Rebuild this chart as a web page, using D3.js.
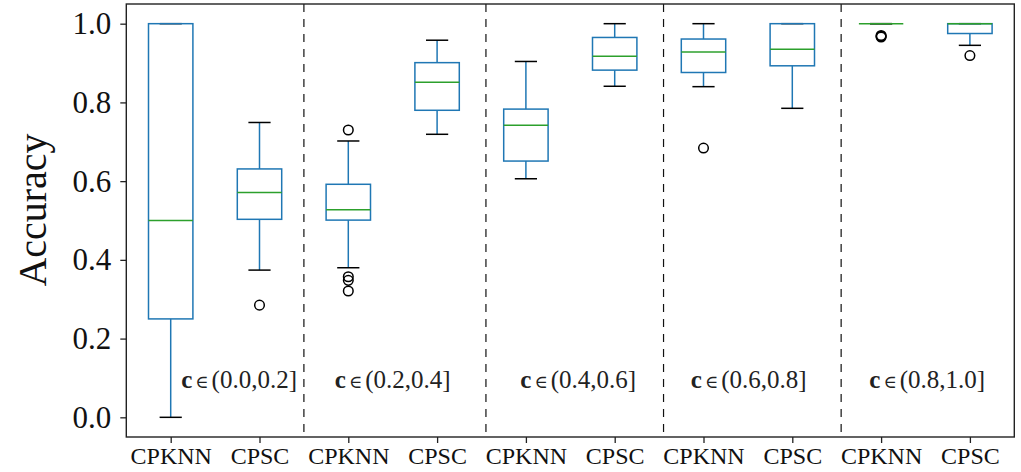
<!DOCTYPE html>
<html>
<head>
<meta charset="utf-8">
<script src="https://cdn.jsdelivr.net/npm/d3@7/dist/d3.min.js"></script>
<style>
  html, body { margin: 0; padding: 0; background: #fff; }
  svg { display: block; }
  text { font-family: "Liberation Serif", "DejaVu Serif", serif; }
</style>
</head>
<body>
<svg id="chart" width="1021" height="472"></svg>
<script>
// Method names along the x axis (two per accuracy range)
const methods = ["CPKNN", "CPSC", "CPKNN", "CPSC", "CPKNN", "CPSC", "CPKNN", "CPSC", "CPKNN", "CPSC"];
// Range labels shown inside each group
const groupRanges = ["(0.0,0.2]", "(0.2,0.4]", "(0.4,0.6]", "(0.6,0.8]", "(0.8,1.0]"];
const groupLabelPos = [1.77, 3.5, 5.59, 7.51, 9.52];
// Group separators (x positions in box units)
const separators = [2.5, 4.55, 6.55, 8.55];

// Box statistics per box, left to right
const whiskerLow  = [0.000, 0.374, 0.380, 0.719, 0.606, 0.841, 0.840, 0.785, 1.000, 0.945];
const q1          = [0.250, 0.503, 0.501, 0.780, 0.651, 0.882, 0.876, 0.893, 1.000, 0.975];
const median      = [0.500, 0.571, 0.527, 0.851, 0.742, 0.917, 0.928, 0.935, 1.000, 1.000];
const q3          = [1.000, 0.631, 0.592, 0.901, 0.783, 0.965, 0.961, 1.000, 1.000, 1.000];
const whiskerHigh = [1.000, 0.749, 0.702, 0.958, 0.904, 1.000, 1.000, 1.000, 1.000, 1.000];
const outliers    = [[], [0.285], [0.730, 0.357, 0.348, 0.321], [], [], [], [0.684], [], [0.970, 0.968, 0.966], [0.919]];

const yTicks = [0.0, 0.2, 0.4, 0.6, 0.8, 1.0];

const svg = d3.select("#chart");
const plotLeft = 126.3, plotRight = 1014.3, plotTop = 4, plotBottom = 437;

const x = d3.scaleLinear().domain([0.5, 10.5]).range([plotLeft, plotRight]);
const y = d3.scaleLinear().domain([-0.05, 1.05]).range([plotBottom, plotTop]);

const boxHalf = 0.25, capHalf = 0.125;
const blue = "#1f77b4", green = "#2ca02c";

// Group separators
svg.append("g").selectAll("line").data(separators).join("line")
  .attr("x1", d => x(d)).attr("x2", d => x(d))
  .attr("y1", plotTop).attr("y2", plotBottom)
  .attr("stroke", "#111").attr("stroke-width", 1.2)
  .attr("stroke-dasharray", "8,7");

// Range annotations
const ann = svg.append("g").selectAll("text").data(groupRanges).join("text")
  .attr("x", (d, i) => x(groupLabelPos[i]))
  .attr("y", 388)
  .attr("text-anchor", "middle")
  .attr("font-size", 25)
  .attr("fill", "#222");
ann.append("tspan").attr("font-weight", "bold").text("c");
ann.append("tspan").attr("font-family", "DejaVu Serif, serif").attr("font-size", 18).attr("dx", 3).text("\u2208");
ann.append("tspan").attr("dx", 3).text(d => d);

// Boxes
const idx = d3.range(methods.length);
const boxes = svg.append("g").selectAll("g").data(idx).join("g");

// whiskers
boxes.append("line")
  .attr("x1", i => x(i + 1)).attr("x2", i => x(i + 1))
  .attr("y1", i => y(q1[i])).attr("y2", i => y(whiskerLow[i]))
  .attr("stroke", blue).attr("stroke-width", 1.5);
boxes.append("line")
  .attr("x1", i => x(i + 1)).attr("x2", i => x(i + 1))
  .attr("y1", i => y(q3[i])).attr("y2", i => y(whiskerHigh[i]))
  .attr("stroke", blue).attr("stroke-width", 1.5);
// caps
boxes.append("line")
  .attr("x1", i => x(i + 1 - capHalf)).attr("x2", i => x(i + 1 + capHalf))
  .attr("y1", i => y(whiskerLow[i])).attr("y2", i => y(whiskerLow[i]))
  .attr("stroke", "#000").attr("stroke-width", 1.5);
boxes.append("line")
  .attr("x1", i => x(i + 1 - capHalf)).attr("x2", i => x(i + 1 + capHalf))
  .attr("y1", i => y(whiskerHigh[i])).attr("y2", i => y(whiskerHigh[i]))
  .attr("stroke", "#000").attr("stroke-width", 1.5);
// box body
boxes.append("rect")
  .attr("x", i => x(i + 1 - boxHalf))
  .attr("width", i => x(i + 1 + boxHalf) - x(i + 1 - boxHalf))
  .attr("y", i => y(q3[i]))
  .attr("height", i => y(q1[i]) - y(q3[i]))
  .attr("fill", "none").attr("stroke", blue).attr("stroke-width", 1.5);
// median
boxes.append("line")
  .attr("x1", i => x(i + 1 - boxHalf)).attr("x2", i => x(i + 1 + boxHalf))
  .attr("y1", i => y(median[i])).attr("y2", i => y(median[i]))
  .attr("stroke", green).attr("stroke-width", 1.5);
// fliers
boxes.selectAll("circle").data(i => outliers[i].map(v => ({ i, v }))).join("circle")
  .attr("cx", d => x(d.i + 1)).attr("cy", d => y(d.v))
  .attr("r", 4.8)
  .attr("fill", "none").attr("stroke", "#000").attr("stroke-width", 1.5);

// Axes
const yAxis = d3.axisLeft(y).tickValues(yTicks).tickFormat(d3.format(".1f")).tickSizeOuter(0).tickSize(6).tickPadding(9);
const gy = svg.append("g").attr("transform", `translate(${plotLeft},0)`).call(yAxis);
gy.select(".domain").remove();
gy.selectAll(".tick line").attr("stroke", "#222").attr("stroke-width", 1.3);
gy.selectAll(".tick text").attr("font-size", 31).attr("font-family", "Liberation Serif, serif").attr("fill", "#111");

const xAxis = d3.axisBottom(x).tickValues(d3.range(1, 11)).tickFormat((d, i) => methods[i]).tickSizeOuter(0).tickSize(6).tickPadding(4);
const gx = svg.append("g").attr("transform", `translate(0,${plotBottom})`).call(xAxis);
gx.select(".domain").remove();
gx.selectAll(".tick line").attr("stroke", "#222").attr("stroke-width", 1.3);
gx.selectAll(".tick text").attr("font-size", 24).attr("font-family", "Liberation Serif, serif").attr("fill", "#111");

// Frame
svg.append("rect")
  .attr("x", plotLeft).attr("y", plotTop)
  .attr("width", plotRight - plotLeft).attr("height", plotBottom - plotTop)
  .attr("fill", "none").attr("stroke", "#222").attr("stroke-width", 1.4);

// Y label
svg.append("text")
  .attr("transform", "translate(46,210) rotate(-90)")
  .attr("text-anchor", "middle")
  .attr("font-size", 40)
  .attr("fill", "#111")
  .text("Accuracy");
</script>
</body>
</html>
